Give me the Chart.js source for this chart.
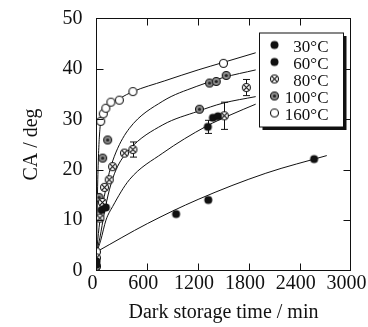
<!DOCTYPE html>
<html><head><meta charset="utf-8">
<script src="https://cdn.jsdelivr.net/npm/chart.js@4.4.1/dist/chart.umd.min.js"></script>
<style>html,body{margin:0;padding:0;background:#fff;}canvas{display:block;}</style>
</head><body>
<canvas id="c" width="368" height="327"></canvas>
<script>
// ---- data ----
const seriesLabels = ['30°C', '60°C', '80°C', '100°C', '160°C'];
const xTickValues = [0, 600, 1200, 1800, 2400, 3000];
const yTickValues = [0, 10, 20, 30, 40, 50];

// measured points (time / min, contact angle / deg)
const time30 = [0, 940, 1320, 2570];
const ca30   = [1.2, 11.2, 14.0, 22.1];
const err30  = [0, 0, 0, 0];

const time60 = [0, 60, 110, 1315, 1375, 1435];
const ca60   = [1.8, 12.0, 12.5, 28.5, 30.3, 30.6];
const err60  = [0, 0, 0, 1.3, 0, 0];

const time80 = [0, 40, 70, 95, 150, 190, 330, 430, 1510, 1770];
const ca80   = [2.5, 10.4, 13.5, 16.5, 18.0, 20.6, 23.3, 24.0, 30.7, 36.3];
const err80  = [0, 0, 0, 0, 0, 0, 0, 1.5, 2.7, 1.6];

const time100 = [0, 30, 73, 132, 1216, 1335, 1414, 1532];
const ca100   = [0.8, 14.5, 22.3, 25.9, 32.0, 37.2, 37.5, 38.7];
const err100  = [0, 0, 0, 0, 0, 0, 0, 0];

const time160 = [0, 50, 80, 110, 170, 270, 430, 1500];
const ca160   = [3.7, 29.6, 31.1, 32.2, 33.4, 33.8, 35.5, 41.1];
const err160  = [0, 0, 0, 0, 0, 0, 0, 0];

// fitted curves
const fitTime30 = [0, 600, 1200, 2000, 2720];
const fitCA30   = [3.7, 9.3, 14.1, 19.3, 22.8];
const fitTime60 = [0, 50, 112, 191, 388, 783, 1295, 1600, 1880];
const fitCA60   = [3.5, 6.0, 10.0, 12.7, 18.0, 23.3, 28.6, 31.0, 33.0];
const fitTime80 = [0, 40, 92, 152, 231, 388, 783, 1200, 1493, 1880];
const fitCA80   = [3.5, 6.5, 11.4, 16.0, 20.0, 24.0, 28.9, 31.6, 33.2, 34.5];
const fitTime100 = [0, 30, 60, 92, 152, 231, 388, 783, 1177, 1500, 1880];
const fitCA100   = [3.5, 8.5, 12.0, 14.7, 19.5, 23.5, 28.2, 33.6, 36.5, 38.3, 39.8];
const fitTime160 = [0, 15, 40, 80, 150, 280, 430, 800, 1200, 1500, 1880];
const fitCA160   = [3.5, 18.0, 28.0, 31.0, 32.8, 34.2, 35.5, 37.6, 39.8, 41.3, 43.2];

// ---- marker images ----
function marker(kind) {
  const s = 11, c = document.createElement('canvas');
  c.width = s; c.height = s;
  const g = c.getContext('2d');
  const cx = s / 2, cy = s / 2, r = 4;
  g.beginPath(); g.arc(cx, cy, r, 0, Math.PI * 2);
  if (kind === 'black') { g.fillStyle = '#111'; g.fill(); }
  else if (kind === 'open') { g.fillStyle = '#fff'; g.fill(); g.lineWidth = 1.1; g.strokeStyle = '#111'; g.stroke(); }
  else if (kind === 'cross') {
    g.fillStyle = '#fff'; g.fill(); g.lineWidth = 1.1; g.strokeStyle = '#111'; g.stroke();
    const d = r * 0.7;
    g.beginPath(); g.moveTo(cx - d, cy - d); g.lineTo(cx + d, cy + d);
    g.moveTo(cx + d, cy - d); g.lineTo(cx - d, cy + d); g.stroke();
  } else if (kind === 'gray') {
    g.fillStyle = '#8c8c8c'; g.fill(); g.lineWidth = 1.1; g.strokeStyle = '#111'; g.stroke();
    g.beginPath(); g.arc(cx, cy, 1.6, 0, Math.PI * 2); g.fillStyle = '#222'; g.fill();
  }
  return c;
}
const markerImgs = [marker('black'), marker('black'), marker('cross'), marker('gray'), marker('open')];

const pointSets = [
  [time30, ca30, err30], [time60, ca60, err60], [time80, ca80, err80],
  [time100, ca100, err100], [time160, ca160, err160]
];
const fitSets = [
  [fitTime30, fitCA30], [fitTime60, fitCA60], [fitTime80, fitCA80],
  [fitTime100, fitCA100], [fitTime160, fitCA160]
];
const toXY = (xs, ys) => xs.map((x, i) => ({x: x, y: ys[i]}));

const datasets = [];
pointSets.forEach((p, i) => {
  datasets.push({
    label: seriesLabels[i], data: toXY(p[0], p[1]), errors: p[2], isMarker: true,
    pointStyle: markerImgs[i], pointRadius: 4, showLine: false, order: 1
  });
});
fitSets.forEach((f, i) => {
  datasets.push({
    label: 'fit ' + seriesLabels[i], data: toXY(f[0], f[1]), showLine: true,
    borderColor: '#111', borderWidth: 1, pointRadius: 0, fill: false,
    cubicInterpolationMode: 'monotone', order: 2
  });
});

const SERIF = "'Liberation Serif', 'Times New Roman', serif";

const framePlugin = {
  id: 'frame',
  beforeDatasetsDraw(chart) {
    const {ctx, scales: {x, y}} = chart;
    ctx.save();
    ctx.strokeStyle = '#111'; ctx.lineWidth = 1;
    chart.data.datasets.forEach(ds => {
      if (!ds.isMarker) return;
      ds.data.forEach((p, i) => {
        const e = ds.errors[i];
        if (!e) return;
        const px = Math.round(x.getPixelForValue(p.x)) + 0.5;
        const y1 = y.getPixelForValue(p.y - e), y2 = y.getPixelForValue(p.y + e);
        ctx.beginPath();
        ctx.moveTo(px, y1); ctx.lineTo(px, y2);
        ctx.moveTo(px - 3.5, y1); ctx.lineTo(px + 3.5, y1);
        ctx.moveTo(px - 3.5, y2); ctx.lineTo(px + 3.5, y2);
        ctx.stroke();
      });
    });
    ctx.restore();
  },
  afterDraw(chart) {
    const {ctx, chartArea: a, scales: {x, y}} = chart;
    ctx.save();
    ctx.strokeStyle = '#111'; ctx.lineWidth = 1;
    ctx.strokeRect(a.left, a.top, a.right - a.left, a.bottom - a.top);
    const tl = 7;
    ctx.beginPath();
    x.ticks.forEach(t => {
      if (t.value <= x.min || t.value >= x.max) return;
      const px = Math.round(x.getPixelForValue(t.value)) + 0.5;
      ctx.moveTo(px, a.bottom); ctx.lineTo(px, a.bottom - tl);
      ctx.moveTo(px, a.top); ctx.lineTo(px, a.top + tl);
    });
    y.ticks.forEach(t => {
      if (t.value <= y.min || t.value >= y.max) return;
      const py = Math.round(y.getPixelForValue(t.value)) + 0.5;
      ctx.moveTo(a.left, py); ctx.lineTo(a.left + tl, py);
      ctx.moveTo(a.right, py); ctx.lineTo(a.right - tl, py);
    });
    ctx.stroke();

    // legend box with shadow
    const bw = 84, bh = 94;
    const bx = a.right - 7 - bw, by = a.top + 14.5;
    ctx.fillStyle = '#111';
    ctx.fillRect(bx + 3, by + 3, bw, bh);
    ctx.fillStyle = '#fff';
    ctx.fillRect(bx, by, bw, bh);
    ctx.strokeRect(bx, by, bw, bh);
    const markers = chart.data.datasets.filter(d => d.isMarker);
    ctx.font = '17px ' + SERIF;
    ctx.textAlign = 'right'; ctx.textBaseline = 'middle';
    ctx.fillStyle = '#111';
    markers.forEach((d, i) => {
      const cy = by + 14 + i * 17;
      const img = d.pointStyle;
      ctx.drawImage(img, bx + 15 - img.width / 2, cy - 2 - img.height / 2);
      ctx.fillText(d.label, bx + bw - 15, cy + 1);
    });
    ctx.restore();
  }
};

new Chart(document.getElementById('c'), {
  type: 'scatter',
  data: {datasets: datasets},
  options: {
    responsive: false, animation: false, devicePixelRatio: 1,
    layout: {padding: {left: 0, right: 17.5, top: 18.5, bottom: 0}},
    plugins: {legend: {display: false}, tooltip: {enabled: false}},
    scales: {
      x: {
        type: 'linear', min: 0, max: 3000,
        afterBuildTicks: s => { s.ticks = xTickValues.map(v => ({value: v})); },
        afterFit: s => { s.height = 56.5; s.paddingLeft = 0; s.paddingRight = 0; },
        grid: {display: false, drawTicks: false},
        border: {display: false},
        ticks: {color: '#111', font: {family: SERIF, size: 20}, padding: 1, labelOffset: -4, maxRotation: 0, autoSkip: false,
                callback: v => String(v)},
        title: {display: true, text: 'Dark storage time / min', color: '#111', font: {family: SERIF, size: 20}, padding: {top: 0, bottom: 2}}
      },
      y: {
        type: 'linear', min: 0, max: 50,
        afterBuildTicks: s => { s.ticks = yTickValues.map(v => ({value: v})); },
        afterFit: s => { s.width = 96.5; s.paddingTop = 0; s.paddingBottom = 0; },
        grid: {display: false, drawTicks: false},
        border: {display: false},
        ticks: {color: '#111', font: {family: SERIF, size: 20}, padding: 14, autoSkip: false, callback: v => String(v)},
        title: {display: true, text: 'CA / deg', color: '#111', font: {family: SERIF, size: 20}, padding: {top: 20, bottom: 0}}
      }
    }
  },
  plugins: [framePlugin]
});
</script>
</body></html>
